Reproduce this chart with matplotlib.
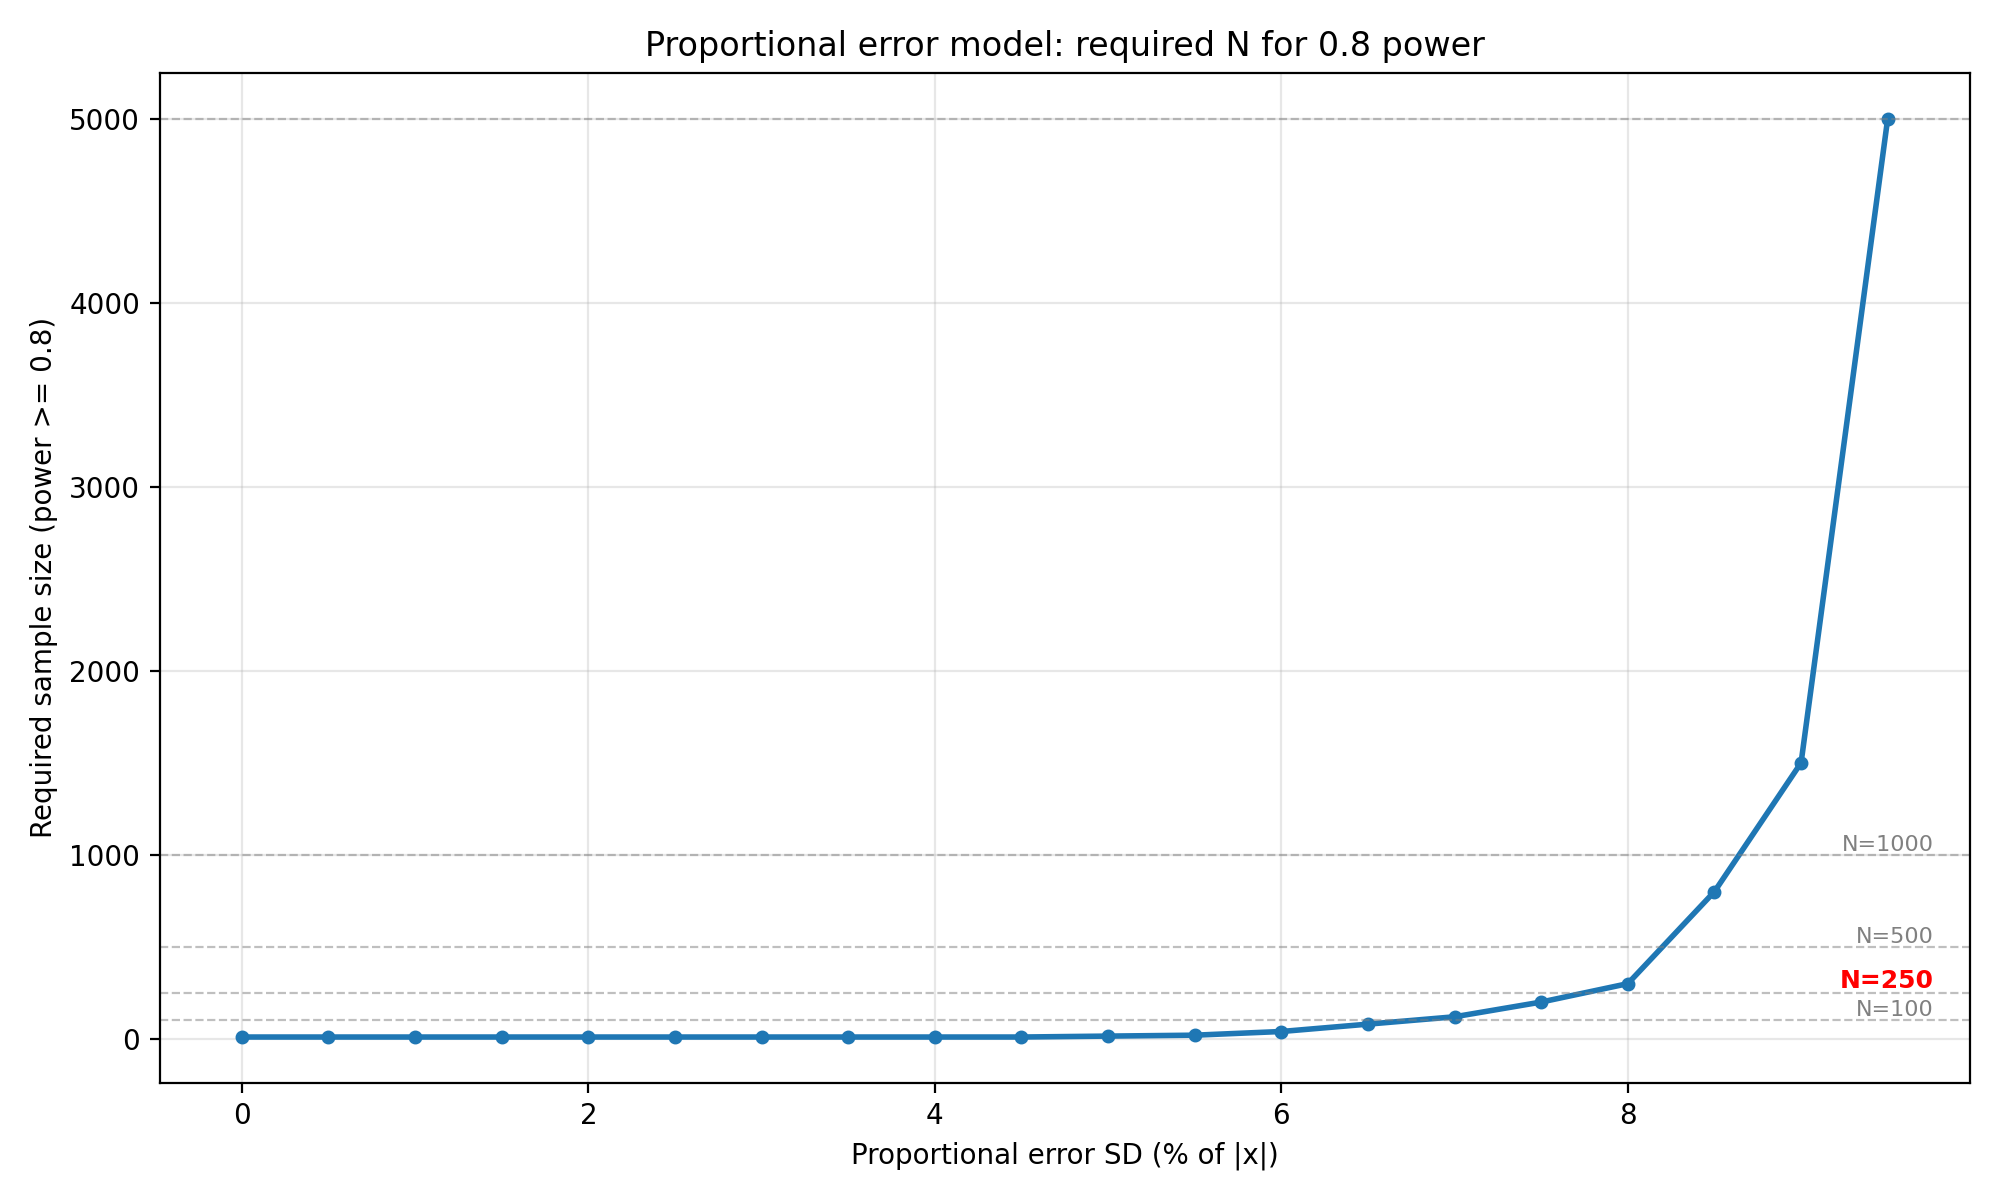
import matplotlib

matplotlib.use("Agg")
import matplotlib.pyplot as plt

# proportional error SD (% of |x|) and required N for 0.8 power
sd_pct = [0.0, 0.5, 1.0, 1.5, 2.0, 2.5, 3.0, 3.5, 4.0, 4.5,
          5.0, 5.5, 6.0, 6.5, 7.0, 7.5, 8.0, 8.5, 9.0, 9.5]
required_n = [10, 10, 10, 10, 10, 10, 10, 10, 10, 10,
              15, 20, 40, 80, 120, 200, 300, 800, 1500, 5000]
ref_levels = [100, 250, 500, 1000, 5000]
ref_labels = ["N=100", "N=250", "N=500", "N=1000", None]

fig, ax = plt.subplots(figsize=(10, 6), dpi=200)
ax.plot(sd_pct, required_n, "o-", color="#1f77b4", lw=2, markersize=4)

for level, label in zip(ref_levels, ref_labels):
    ax.axhline(level, color="grey", ls="--", lw=0.8, alpha=0.5)
    if label is None:
        continue
    highlight = level == 250
    ax.text(0.98, level, label, transform=ax.get_yaxis_transform(),
            ha="right", va="bottom",
            fontsize=9 if highlight else 8,
            color="red" if highlight else "grey",
            fontweight="bold" if highlight else "normal")

ax.set_xlabel("Proportional error SD (% of |x|)")
ax.set_ylabel("Required sample size (power >= 0.8)")
ax.set_title("Proportional error model: required N for 0.8 power")
ax.grid(True, alpha=0.3)
fig.tight_layout()
fig.savefig("out.png", dpi=200)
plt.close(fig)
